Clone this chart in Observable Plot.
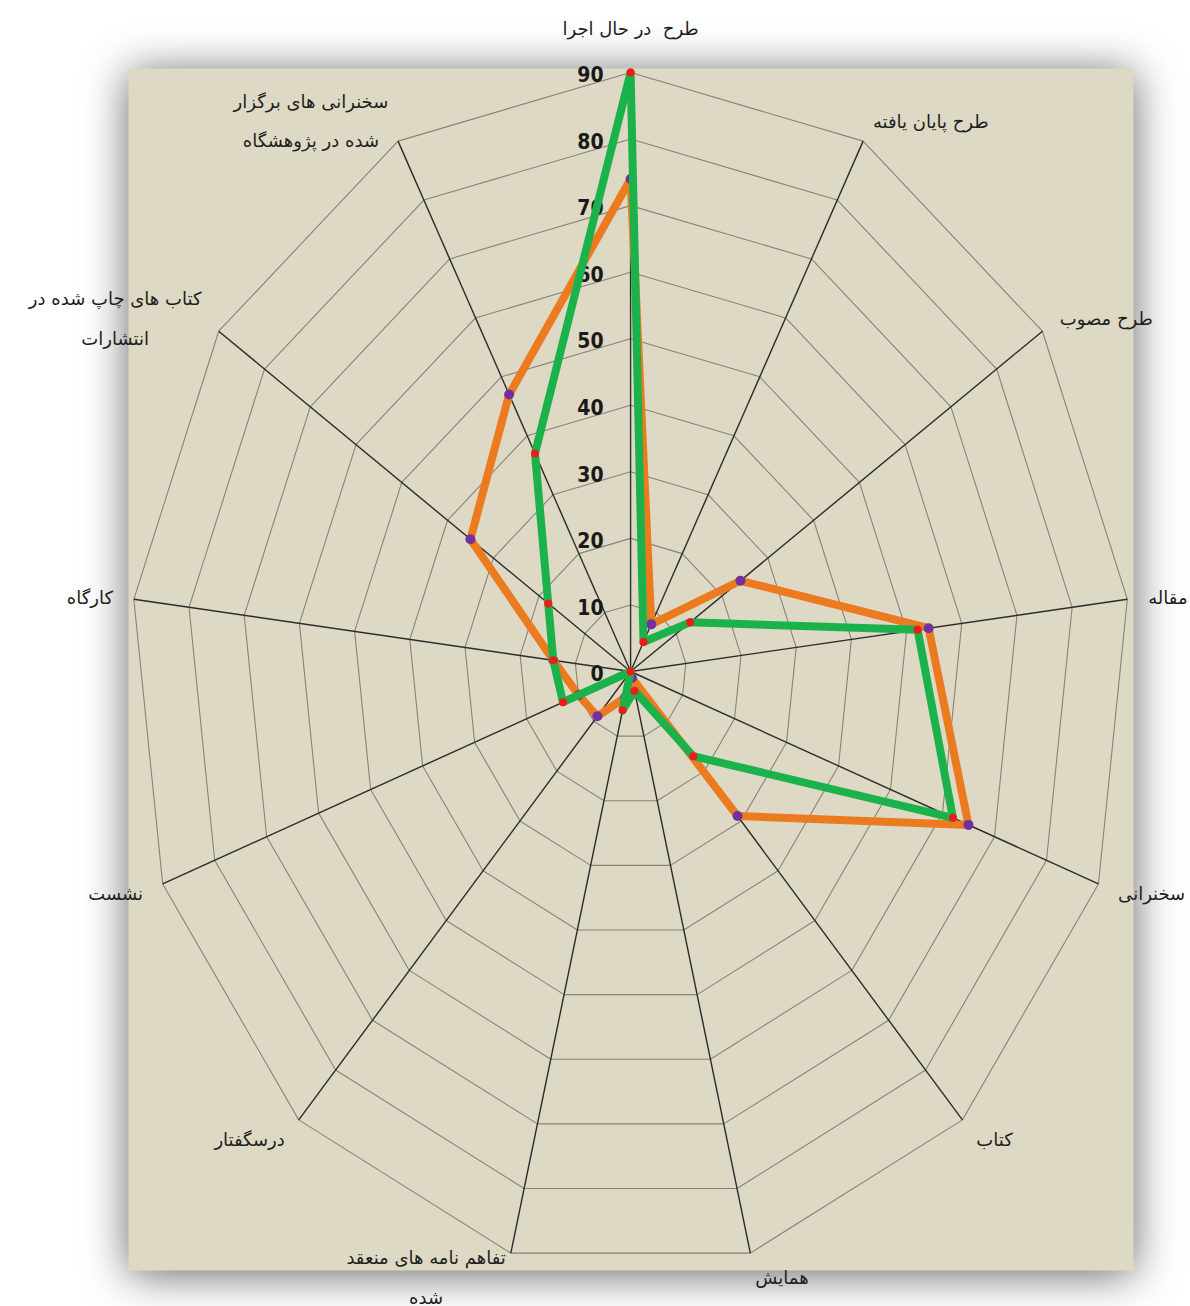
<!DOCTYPE html>
<html><head><meta charset="utf-8">
<script src="https://cdn.jsdelivr.net/npm/d3@7"></script>
<script src="https://cdn.jsdelivr.net/npm/@observablehq/plot@0.6"></script>
<style>
html,body{margin:0;padding:0;background:#fff;}
#chart{width:1190px;height:1306px;position:relative;}
</style></head><body><div id="chart"></div>
<script>
// ---- data ----
const categories = [
  "طرح  در حال اجرا",
  "طرح پایان یافته",
  "طرح مصوب",
  "مقاله",
  "سخنرانی",
  "کتاب",
  "همایش",
  "تفاهم نامه های منعقد\nشده",
  "درسگفتار",
  "نشست",
  "کارگاه",
  "کتاب های چاپ شده در\nانتشارات",
  "سخنرانی های برگزار\nشده در پژوهشگاه"
];
const seriesOrange = [74, 8, 24, 54, 65, 29, 1, 4, 9, 10, 14, 35, 47];
const seriesGreen  = [90, 5, 13, 52, 62, 17, 3, 6, 0, 13, 14, 18, 37];
const ticks = [0, 10, 20, 30, 40, 50, 60, 70, 80, 90];

// ---- geometry helpers (radar projection into data space) ----
const rMax = d3.max(ticks);
const n = categories.length;
const angle = i => 2 * Math.PI * i / n;
const px = (i, v) => v * Math.sin(angle(i));
const py = (i, v) => v * Math.cos(angle(i));

const rings = ticks.filter(t => t > 0).flatMap(t => categories.map((c, i) => ({ring: t, x: px(i, t), y: py(i, t)})));
const spokes = categories.map((c, i) => ({x1: 0, y1: 0, x2: px(i, rMax), y2: py(i, rMax)}));
const toPoints = vals => vals.map((v, i) => ({x: px(i, v), y: py(i, v), v}));
const ptsOrange = toPoints(seriesOrange);
const ptsGreen = toPoints(seriesGreen);

// ---- label placement ----
const labelFontFamily = '"DejaVu Sans", sans-serif';
const labelFontSize = 18;
const ctx = document.createElement("canvas").getContext("2d");
ctx.font = `${labelFontSize}px ${labelFontFamily}`;
const labelMarks = categories.map((c, i) => {
  const s = Math.sin(angle(i)), co = Math.cos(angle(i));
  const w = d3.max(c.split("\n"), l => ctx.measureText(l).width);
  const side = Math.abs(s) < 0.05 ? 0 : Math.sign(s);
  return Plot.text([{x: px(i, rMax), y: py(i, rMax), t: c}], {
    x: "x", y: "y", text: "t",
    textAnchor: "middle", lineAnchor: "middle",
    dx: 21 * s + side * w / 2,
    dy: -24 * co - 5 + (side === 0 ? -21 : 0),
    lineHeight: 2.2,
    fontFamily: labelFontFamily, fontSize: labelFontSize, fill: "#1e1e1e"
  });
});

const chart = Plot.plot({
  width: 1190, height: 1306,
  marginLeft: 128, marginRight: 57, marginTop: 68, marginBottom: 36,
  x: {domain: [-90.3, 90.45], axis: null},
  y: {domain: [-90, 90.6], axis: null},
  style: {background: "transparent", overflow: "visible"},
  marks: [
    Plot.frame({fill: "#DED9C4", stroke: "none"}),
    Plot.line(rings, {x: "x", y: "y", z: "ring", curve: "linear-closed", stroke: "#85847a", strokeWidth: 1.1}),
    Plot.link(spokes, {x1: "x1", y1: "y1", x2: "x2", y2: "y2", stroke: "#2b2b2b", strokeWidth: 1.4}),
    Plot.text(ticks, {x: 0, y: d => d, text: d => String(d), textAnchor: "end", dx: -27, dy: 3,
      fontFamily: '"Liberation Sans Narrow", "DejaVu Sans Condensed", "Arial Narrow", sans-serif',
      fontWeight: "bold", fontSize: 21, fill: "#1a1a1a"}),
    Plot.line(ptsOrange, {x: "x", y: "y", curve: "linear-closed", stroke: "#EC7A1F", strokeWidth: 8, strokeLinejoin: "round"}),
    Plot.dot(ptsOrange, {x: "x", y: "y", r: 5, fill: "#7030A0", stroke: "none"}),
    Plot.line(ptsGreen, {x: "x", y: "y", curve: "linear-closed", stroke: "#1CB24B", strokeWidth: 8, strokeLinejoin: "round"}),
    Plot.dot(ptsGreen, {x: "x", y: "y", r: 4, fill: "#F01A1A", stroke: "none"}),
    ...labelMarks
  ]
});
const fr = chart.querySelector('[aria-label="frame"]');
if (fr) fr.style.filter = "drop-shadow(0px 4px 22px rgba(0,0,0,0.6))";
document.getElementById("chart").appendChild(chart);
</script>
</body></html>
